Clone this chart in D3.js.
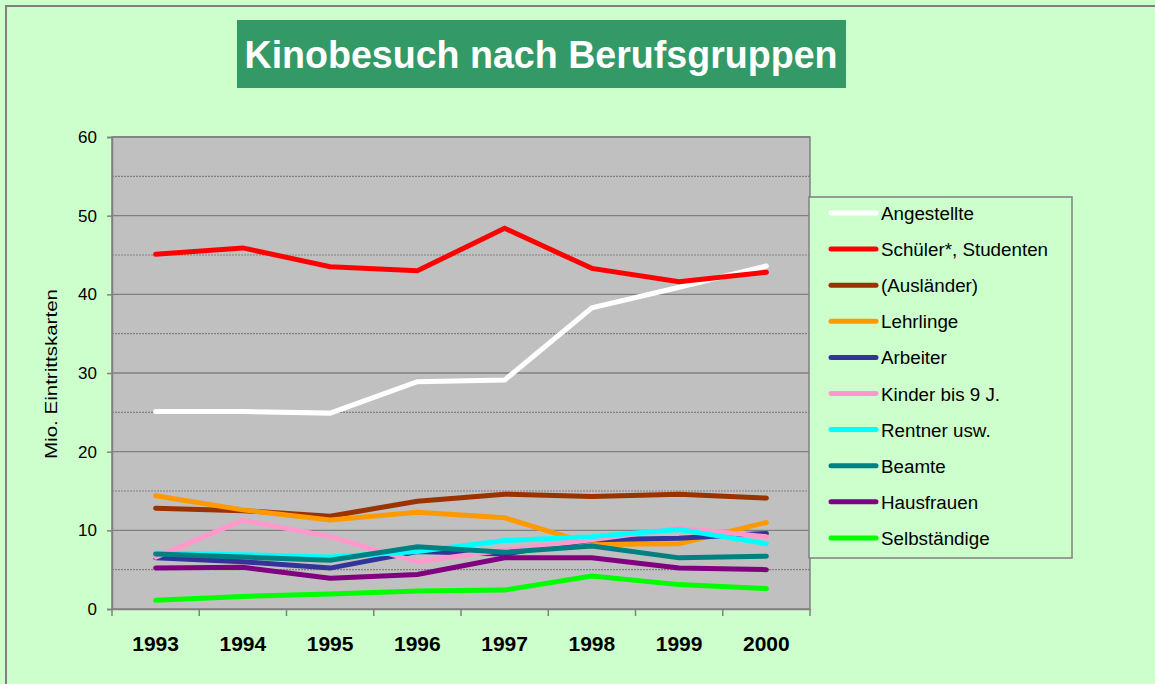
<!DOCTYPE html>
<html>
<head>
<meta charset="utf-8">
<script src="https://d3js.org/d3.v7.min.js"></script>
<style>
  body { margin: 0; background: #CCFFCC; }
  text { font-family: "Liberation Sans", Arial, sans-serif; }
</style>
</head>
<body>
<script>
const years = ["1993", "1994", "1995", "1996", "1997", "1998", "1999", "2000"];
const groups = ["Angestellte", "Schüler*, Studenten", "(Ausländer)", "Lehrlinge", "Arbeiter",
                "Kinder bis 9 J.", "Rentner usw.", "Beamte", "Hausfrauen", "Selbständige"];
const colors = ["#FFFFFF", "#FF0000", "#993300", "#FF9900", "#333399",
                "#FF99CC", "#00FFFF", "#008080", "#800080", "#00FF00"];
const angestellte = [25.1, 25.1, 24.9, 28.9, 29.1, 38.3, 40.9, 43.6];
const schueler    = [45.1, 45.9, 43.5, 43.0, 48.4, 43.3, 41.6, 42.8];
const auslaender  = [12.8, 12.5, 11.8, 13.7, 14.6, 14.3, 14.6, 14.1];
const lehrlinge   = [14.4, 12.6, 11.3, 12.3, 11.6, 8.2, 8.3, 11.0];
const arbeiter    = [6.5, 6.0, 5.2, 7.3, 7.0, 8.8, 9.0, 9.6];
const kinder      = [6.6, 11.3, 9.2, 6.0, 7.5, 8.8, 10.3, 9.2];
const rentner     = [7.1, 6.9, 6.6, 7.3, 8.7, 9.2, 10.1, 8.3];
const beamte      = [7.0, 6.6, 6.2, 7.9, 7.2, 8.0, 6.5, 6.7];
const hausfrauen  = [5.2, 5.3, 3.9, 4.4, 6.5, 6.5, 5.2, 5.0];
const selbst      = [1.1, 1.6, 1.9, 2.3, 2.4, 4.2, 3.1, 2.6];
const seriesValues = [angestellte, schueler, auslaender, lehrlinge, arbeiter,
                      kinder, rentner, beamte, hausfrauen, selbst];
const yTicks = [0, 10, 20, 30, 40, 50, 60];

const W = 1155, H = 684;
const svg = d3.select('body')
            .append('svg')
            .attr('width', W)
            .attr('height', H)

// outer frame
svg.append("rect")
  .attr("x", 6).attr("y", 6)
  .attr("width", W + 10).attr("height", H + 10)
  .attr("fill", "#CCFFCC")
  .attr("stroke", "#808080")
  .attr("stroke-width", 2);

// title box
svg.append("rect")
  .attr("x", 237).attr("y", 20)
  .attr("width", 609).attr("height", 68)
  .attr("fill", "#339966");
svg.append("text")
  .attr("x", 541)
  .attr("y", 68)
  .attr("text-anchor", "middle")
  .attr("fill", "#fff")
  .attr("textLength", 593)
  .attr("lengthAdjust", "spacingAndGlyphs")
  .style("font-size", "38px")
  .style("font-weight", "bold")
  .text("Kinobesuch nach Berufsgruppen");

const pLeft = 112, pRight = 810, pTop = 137, pBottom = 609;

const x = d3.scaleBand().domain(years).range([pLeft, pRight]);
const y = d3.scaleLinear().domain([0, 60]).range([pBottom, pTop]);

// plot area
svg.append("rect")
  .attr("x", pLeft).attr("y", pTop)
  .attr("width", pRight - pLeft).attr("height", pBottom - pTop)
  .attr("fill", "#C0C0C0");

// gridlines: solid at 10s, dotted at 5s
const grid = svg.append("g");
grid.selectAll("line.minor")
  .data(d3.range(5, 60, 10))
  .enter().append("line")
  .attr("x1", pLeft).attr("x2", pRight)
  .attr("y1", d => y(d)).attr("y2", d => y(d))
  .attr("stroke", "#808080")
  .attr("stroke-width", 1.2)
  .attr("stroke-dasharray", "2,1");
grid.selectAll("line.major")
  .data(yTicks.slice(1))
  .enter().append("line")
  .attr("x1", pLeft).attr("x2", pRight)
  .attr("y1", d => y(d)).attr("y2", d => y(d))
  .attr("stroke", "#808080")
  .attr("stroke-width", 1.4);

svg.append("rect")
  .attr("x", pLeft).attr("y", pTop)
  .attr("width", pRight - pLeft).attr("height", pBottom - pTop)
  .attr("fill", "none")
  .attr("stroke", "#808080")
  .attr("stroke-width", 1.5);

// axes
const yAxis = svg.append("g")
  .attr("transform", `translate(${pLeft},0)`)
  .call(d3.axisLeft(y).tickValues(yTicks).tickSize(5).tickPadding(10));
yAxis.select(".domain").attr("stroke", "#808080").attr("stroke-width", 1.5);
yAxis.selectAll(".tick line").attr("stroke", "#808080").attr("stroke-width", 1.5);
yAxis.selectAll("text")
  .style("font-size", "17px")
  .style("font-family", "Liberation Sans, Arial, sans-serif")
  .attr("fill", "#000");

const xAxis = svg.append("g")
  .attr("transform", `translate(0,${pBottom})`)
  .call(d3.axisBottom(x).tickSize(0).tickPadding(27));
xAxis.select(".domain").attr("stroke", "#808080").attr("stroke-width", 1.5);
xAxis.selectAll("text")
  .style("font-size", "21px")
  .style("font-weight", "bold")
  .style("font-family", "Liberation Sans, Arial, sans-serif")
  .attr("fill", "#000");
// category separators
svg.append("g").selectAll("line")
  .data(years.concat(["end"]))
  .enter().append("line")
  .attr("x1", (d, i) => pLeft + i * x.bandwidth())
  .attr("x2", (d, i) => pLeft + i * x.bandwidth())
  .attr("y1", pBottom).attr("y2", pBottom + 7)
  .attr("stroke", "#808080")
  .attr("stroke-width", 1.5);

svg.append("text")
  .attr("transform", `translate(57,${374}) rotate(-90)`)
  .attr("text-anchor", "middle")
  .attr("textLength", 170)
  .attr("lengthAdjust", "spacingAndGlyphs")
  .style("font-size", "17px")
  .text("Mio. Eintrittskarten");

// lines
const line = d3.line()
  .x((d, i) => x(years[i]) + x.bandwidth() / 2)
  .y(d => y(d));

svg.append("g").selectAll("path")
  .data(seriesValues)
  .enter().append("path")
  .attr("d", line)
  .attr("fill", "none")
  .attr("stroke", (d, i) => colors[i])
  .attr("stroke-width", 5)
  .attr("stroke-linejoin", "miter")
  .attr("stroke-linecap", "round");

// legend
const legend = svg.append("g");
legend.append("rect")
  .attr("x", 809).attr("y", 197)
  .attr("width", 263).attr("height", 361)
  .attr("fill", "#CCFFCC")
  .attr("stroke", "#808080")
  .attr("stroke-width", 1.5);
const item = legend.selectAll("g.item")
  .data(groups)
  .enter().append("g")
  .attr("transform", (d, i) => `translate(0,${213 + i * 36.1})`);
item.append("line")
  .attr("x1", 831).attr("x2", 876)
  .attr("stroke", (d, i) => colors[i])
  .attr("stroke-width", 5)
  .attr("stroke-linecap", "round");
item.append("text")
  .attr("x", 881)
  .attr("y", 7)
  .style("font-size", "18.8px")
  .text(d => d);
</script>
</body>
</html>
